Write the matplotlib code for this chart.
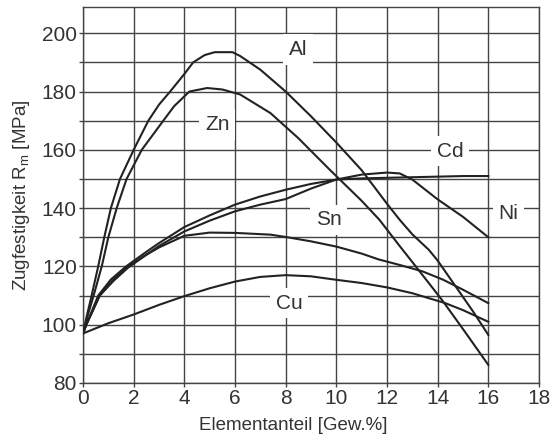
import matplotlib
matplotlib.use("Agg")
import matplotlib.pyplot as plt
from matplotlib.ticker import MultipleLocator

plt.rcParams['font.family'] = ['Liberation Sans', 'DejaVu Sans']

# ---- data ----
x_al = [0, 0.15, 0.34, 0.6, 0.84, 1.1, 1.46, 2.0, 2.58, 3.0, 3.44, 4.0, 4.35, 4.8, 5.2, 5.9, 6.2, 7.0, 8.0, 9.0, 10.0, 11.0, 12.0, 12.5, 13.0, 13.65, 14.0, 14.8, 15.4, 16.0]
y_al = [97, 103, 110, 120, 130, 140, 150, 160, 170, 175.5, 180, 186, 190, 192.5, 193.5, 193.5, 192.2, 187.5, 180, 171.5, 162.5, 153, 141.5, 136, 131, 125.7, 122, 112, 104.5, 96.5]

x_zn = [0, 0.18, 0.42, 0.74, 1.0, 1.33, 1.72, 2.32, 3.17, 3.6, 4.2, 4.9, 5.5, 6.2, 7.4, 8.5, 9.76, 11.0, 11.7, 12.5, 13.0, 14.17, 15.0, 16.0]
y_zn = [97, 103, 110, 120, 130, 140, 150, 160, 170, 175, 180, 181.2, 180.7, 179, 172.6, 164, 153, 142.5, 136, 127, 121.5, 108.5, 98.5, 86.2]

x_sn = [0, 0.13, 0.66, 1.2, 1.77, 2.5, 3.0, 4.0, 5.0, 6.0, 7.4, 8.0, 9.0, 10.0, 11.0, 11.67, 12.5, 13.4, 14.2, 15.0, 16.0]
y_sn = [97, 100, 110, 115.5, 120, 124, 126.5, 130.5, 131.6, 131.5, 130.9, 130.1, 128.6, 126.8, 124.4, 122.4, 120.5, 118.3, 115.5, 112, 107.4]

x_cu = [0, 1, 2, 3, 4, 5, 6, 7, 8, 9, 10, 11, 12, 13, 14.3, 15, 16]
y_cu = [97, 100.5, 103.5, 106.8, 109.8, 112.5, 114.8, 116.4, 117, 116.6, 115.4, 114.3, 112.8, 110.8, 107.4, 105, 101]

x_cd = [0, 0.13, 0.6, 1.1, 1.7, 2.5, 3.0, 4.0, 5.0, 6.0, 7.0, 8.0, 9.0, 10.0, 11.0, 12.0, 13.0, 14.0, 15.0, 16.0]
y_cd = [97, 100, 110, 115.5, 120, 125, 128, 133.5, 137.5, 141.2, 144, 146.3, 148.3, 149.8, 150.2, 150.4, 150.6, 150.8, 151, 151]

x_ni = [0, 0.13, 0.66, 1.2, 1.77, 2.5, 3.0, 4.0, 5.0, 6.0, 7.0, 8.0, 9.0, 10.0, 11.0, 12.0, 12.5, 13.0, 14.0, 15.0, 16.0]
y_ni = [97, 100, 110, 115, 119.5, 124, 127, 132, 135.7, 138.9, 141.2, 143.1, 146.7, 149.8, 151.5, 152.2, 151.9, 149.8, 143, 137, 130]

label_names = ["Al", "Zn", "Cd", "Ni", "Sn", "Cu"]
label_x = [8.5, 5.3, 14.5, 16.8, 9.7, 8.15]
label_y = [194.4, 168.7, 159.5, 138.3, 136.0, 107.4]

x_ticks = [0, 2, 4, 6, 8, 10, 12, 14, 16, 18]
y_ticks = [80, 100, 120, 140, 160, 180, 200]

# ---- figure ----
fig = plt.figure(figsize=(5.51, 4.43), dpi=100)
ax = fig.add_axes([83/551, 1-383/443, (539-83)/551, (383-7)/443])

ink = '#222222'
series = [(x_al, y_al), (x_zn, y_zn), (x_sn, y_sn), (x_cu, y_cu), (x_cd, y_cd), (x_ni, y_ni)]
for xs, ys in series:
    ax.plot(xs, ys, color=ink, lw=1.5, zorder=3, solid_joinstyle='round')

ax.set_xlim(0, 18)
ax.set_ylim(80, 209)
ax.set_xticks(x_ticks)
ax.set_yticks(y_ticks)
ax.yaxis.set_minor_locator(MultipleLocator(10))
ax.set_axisbelow(True)
ax.grid(True, which='both', axis='y', color='#444444', lw=1.0)
ax.grid(True, which='major', axis='x', color='#444444', lw=1.0)

for s in ax.spines.values():
    s.set_color('#444444')
    s.set_linewidth(1.0)

ax.tick_params(axis='both', which='both', length=3, width=1.0, color='#444444',
               labelsize=15, labelcolor='#333333', pad=1.5)

for name, lx, ly in zip(label_names, label_x, label_y):
    ax.text(lx, ly, name, fontsize=15, color='#333333', ha='center', va='center',
            zorder=2, bbox=dict(facecolor='white', edgecolor='none', pad=4))

ax.set_xlabel('Elementanteil [Gew.%]', fontsize=13.5, color='#333333')
ax.set_ylabel(r'Zugfestigkeit R$_\mathregular{m}$ [MPa]', fontsize=13.5, color='#333333')
ax.xaxis.set_label_coords(0.46, -0.112)
ax.yaxis.set_label_coords(-0.134, 0.5)
ax.xaxis.label.set_va('center')
ax.yaxis.label.set_va('center')

fig.savefig('out.png', dpi=100)
